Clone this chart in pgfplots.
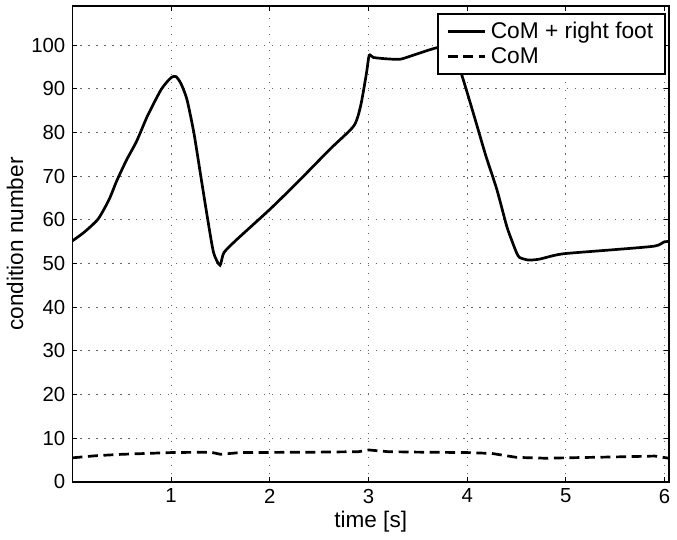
\documentclass[border=0pt]{standalone}
\usepackage{fontspec}
\setmainfont{Liberation Sans}
\usepackage{pgfplots}
\pgfplotsset{compat=1.18}
\begin{document}
\fontsize{10.2}{12}\selectfont
\begin{tikzpicture}
  \begin{axis}[
    scale only axis,
    width=299pt, height=238.5pt,
    xmin=0, xmax=6.045, ymin=0, ymax=109,
    xtick={1,...,6}, ytick={0,10,...,100},
    xlabel={time [s]}, ylabel={condition number},
    label style={font=\fontsize{11.3}{13}\selectfont},
    xlabel style={yshift=3pt}, ylabel style={yshift=-3pt},
    grid=major, grid style={dash pattern=on 0.6pt off 3.4pt, black!60, line width=0.5pt},
    tick align=inside, major tick length=2.5pt,
    tick style={black, line width=0.5pt},
    axis line style={line width=0.8pt},
    tick label style={font=\fontsize{10.2}{12}\selectfont},
    /pgf/number format/assume math mode=true,
    legend style={at={(1,1)}, anchor=north east, xshift=-1.5pt, yshift=-3.5pt,
      draw=black, line width=0.8pt, font=\fontsize{11.4}{12.5}\selectfont,
      row sep=-1pt, inner xsep=4pt, inner ysep=2pt},
    legend cell align=left,
    legend image code/.code={\draw[#1] (0cm,0cm) -- (19pt,0cm);},
  ]
    \addplot[black, line width=1.35pt, smooth, tension=0.4] coordinates {
      (0.00,55.2) (0.12,57.2) (0.26,60.2) (0.37,64.6) (0.45,69.0) (0.55,73.8)
      (0.65,78.0) (0.76,83.8) (0.90,89.9) (1.00,92.6) (1.05,92.8) (1.10,91.2)
      (1.16,87.6) (1.23,80.0) (1.30,70.1) (1.37,60.2) (1.43,52.5) (1.495,49.6)
      (1.535,52.5) (1.67,55.6) (2.00,62.4) (2.28,68.6) (2.61,76.2) (2.85,81.5)
      (2.92,86.1) (2.98,93.7) (3.007,97.7) (3.05,97.2) (3.18,96.9) (3.32,96.8)
      (3.45,97.7) (3.61,98.9) (3.72,99.6) (3.80,99.8) (3.86,99.0) (3.92,95.0)
      (3.99,89.9) (4.09,82.3) (4.19,74.6) (4.30,67.0) (4.40,58.6) (4.46,54.8)
      (4.50,52.5) (4.53,51.4) (4.62,50.8) (4.73,51.0) (4.87,51.8) (5.00,52.3)
      (5.50,53.2) (5.90,54.0) (6.00,55.0) (6.045,55.0)
    };
    \addlegendentry{CoM + right foot}
    \addplot[black, line width=1.35pt, dash pattern=on 5pt off 2.8pt] coordinates {
      (0.00,5.5) (0.25,6.0) (0.50,6.3) (1.00,6.7) (1.40,6.8) (1.50,6.3)
      (1.70,6.7) (2.50,6.8) (2.90,6.9) (3.00,7.3) (3.20,6.9) (3.50,6.8)
      (4.00,6.7) (4.25,6.5) (4.50,5.6) (4.80,5.4) (5.00,5.5) (5.50,5.7)
      (5.90,5.9) (6.045,5.4)
    };
    \addlegendentry{CoM}
  \end{axis}
  \path ([yshift=3pt]current axis.north east);
\end{tikzpicture}
\end{document}
